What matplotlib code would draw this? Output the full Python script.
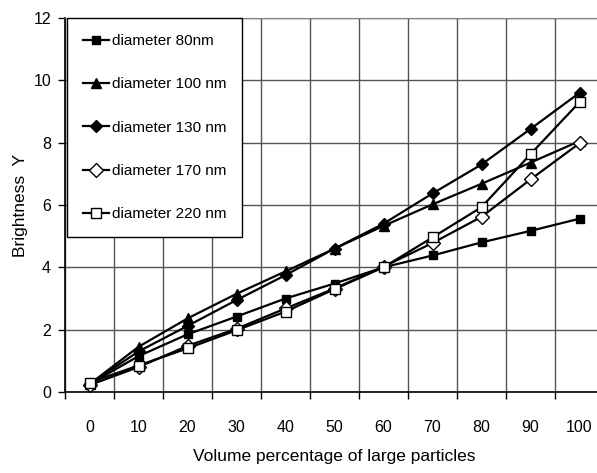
import numpy as np
import matplotlib
matplotlib.use("Agg")
import matplotlib.pyplot as plt

plt.rcParams['font.family'] = ['Liberation Sans Narrow', 'Liberation Sans', 'DejaVu Sans']

# volume percentage of large particles (categories)
volume_pct = [0, 10, 20, 30, 40, 50, 60, 70, 80, 90, 100]

# brightness Y
d80 = [0.25, 1.15, 1.85, 2.42, 3.0, 3.48, 4.0, 4.38, 4.8, 5.17, 5.56]
d100 = [0.25, 1.45, 2.36, 3.15, 3.87, 4.6, 5.33, 6.02, 6.68, 7.36, 8.05]
d130 = [0.25, 1.3, 2.12, 2.95, 3.75, 4.6, 5.4, 6.37, 7.3, 8.44, 9.6]
d170 = [0.22, 0.8, 1.48, 2.03, 2.68, 3.32, 4.02, 4.78, 5.62, 6.82, 7.98]
d220 = [0.3, 0.85, 1.4, 1.98, 2.58, 3.3, 4.0, 4.96, 5.93, 7.63, 9.3]

labels = ['diameter 80nm', 'diameter 100 nm', 'diameter 130 nm',
          'diameter 170 nm', 'diameter 220 nm']

fig = plt.figure(figsize=(5.97, 4.73), dpi=100)
ax = fig.add_axes([65/597, 1-392/473, 539/597, 374/473])

x = np.arange(len(volume_pct))
ax.plot(x, d80, '-s', color='k', lw=1.6, ms=6, mfc='k', label=labels[0])
ax.plot(x, d100, '-^', color='k', lw=1.6, ms=7.5, mfc='k', label=labels[1])
ax.plot(x, d130, '-D', color='k', lw=1.6, ms=6, mfc='k', label=labels[2])
ax.plot(x, d170, '-D', color='k', lw=1.6, ms=7, mfc='white', mew=1, label=labels[3])
ax.plot(x, d220, '-s', color='k', lw=1.6, ms=6.5, mfc='white', mew=1, label=labels[4])

ax.set_xlim(-0.5, len(volume_pct) - 0.5)
ax.set_ylim(0, 12)

# category boundaries carry ticks + grid, labels sit in the middle
ax.set_xticks(np.arange(len(volume_pct) + 1) - 0.5)
ax.set_xticklabels([])
ax.set_xticks(x, minor=True)
ax.set_xticklabels([str(v) for v in volume_pct], minor=True, fontsize=11.5)
ax.tick_params(axis='x', which='major', direction='out', length=5, width=1)
ax.tick_params(axis='x', which='minor', length=0, pad=20)
ax.set_yticks(np.arange(0, 13, 2))
ax.tick_params(axis='y', direction='out', length=5, width=1, labelsize=11.5, pad=5)

ax.grid(True, which='major', color='#555555', lw=1)
ax.set_axisbelow(True)
for s in ['left', 'bottom']:
    ax.spines[s].set_color('k')
    ax.spines[s].set_linewidth(1.2)
ax.spines['top'].set_color('#808080')
ax.spines['right'].set_visible(False)

ax.set_xlabel('Volume percentage of large particles', fontsize=12.5, labelpad=10)
ax.set_ylabel('Brightness  Y', fontsize=12.5, labelpad=4)

leg = ax.legend(loc='upper left', bbox_to_anchor=(0.003, 1.0), borderaxespad=0,
                fontsize=11, labelspacing=1.92, handlelength=1.7, handletextpad=0.2,
                fancybox=False, framealpha=1, edgecolor='k', borderpad=1.05)
leg.get_frame().set_linewidth(1)

fig.savefig('out.png', dpi=100)
